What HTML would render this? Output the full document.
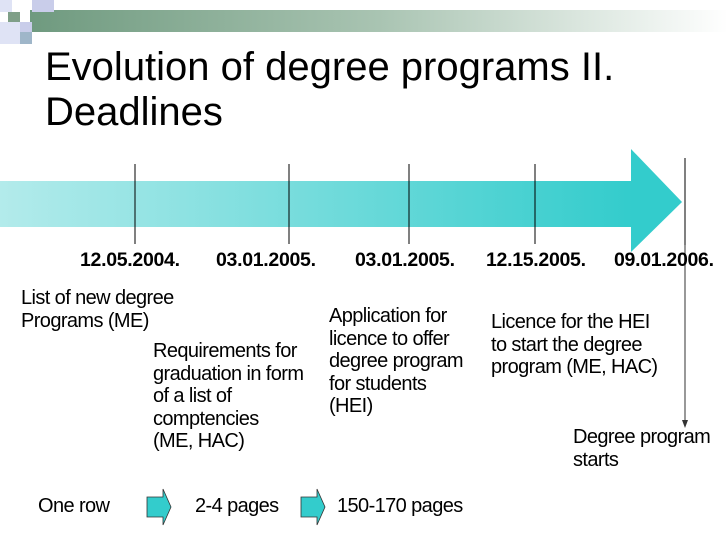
<!DOCTYPE html>
<html><head><meta charset="utf-8"><style>
body{margin:0;width:728px;height:546px;background:#fff;position:relative;overflow:hidden;font-family:"Liberation Sans",Arial,sans-serif;color:#000}
.t{position:absolute;font-size:20px;line-height:22.5px;white-space:nowrap;letter-spacing:-0.6px}
.d{position:absolute;top:248px;font-size:19.5px;line-height:24px;font-weight:bold;white-space:nowrap;letter-spacing:-0.3px}
</style></head><body>
<div style="position:absolute;left:30px;top:10px;width:698px;height:22px;background:linear-gradient(to right,#6f9a7f,#a9c4b2 50%,#fff)"></div>
<div style="position:absolute;left:0;top:0;width:12px;height:12px;background:#dfe3f5"></div>
<div style="position:absolute;left:32px;top:0;width:22px;height:12px;background:#c9cdea"></div>
<div style="position:absolute;left:8px;top:12px;width:12px;height:12px;background:#7f9f88"></div>
<div style="position:absolute;left:0;top:22px;width:20px;height:22px;background:#dfe3f5"></div>
<div style="position:absolute;left:20px;top:22px;width:12px;height:22px;background:#c9cdea"></div>
<div style="position:absolute;left:20px;top:32px;width:12px;height:12px;background:#9fb6c9"></div>
<div style="position:absolute;left:45px;top:45px;font-size:40px;line-height:45px">Evolution of degree programs II.<br>Deadlines</div>
<svg width="728" height="546" style="position:absolute;left:0;top:0">
<defs><linearGradient id="g" x1="0" x2="1"><stop offset="0" stop-color="#b3ebeb"/><stop offset="1" stop-color="#33cccc"/></linearGradient></defs>
<rect x="0" y="181" width="632" height="46" fill="url(#g)"/>
<polygon points="631,149 682,202 631,252" fill="#33cccc"/>
<g stroke="#000" stroke-width="1">
<line x1="135" y1="164" x2="135" y2="244"/><line x1="289" y1="164" x2="289" y2="244"/>
<line x1="409" y1="164" x2="409" y2="244"/><line x1="535" y1="164" x2="535" y2="244"/>
<line x1="685" y1="158" x2="685" y2="245"/></g>
<line x1="685" y1="245" x2="685" y2="420" stroke="#555" stroke-width="1.2"/>
<polygon points="682,420 688,420 685,428" fill="#333"/>
<polygon points="147,497 163,497 163,489 171,507 163,525 163,517 147,517" fill="#33cccc" stroke="#333" stroke-width="0.8"/>
<polygon points="301,497 317,497 317,489 325,507 317,525 317,517 301,517" fill="#33cccc" stroke="#333" stroke-width="0.8"/>
</svg>
<div class="d" style="left:80px">12.05.2004.</div>
<div class="d" style="left:216px">03.01.2005.</div>
<div class="d" style="left:355px">03.01.2005.</div>
<div class="d" style="left:486px">12.15.2005.</div>
<div class="d" style="left:614px">09.01.2006.</div>
<div class="t" style="left:21px;top:287px">List of new degree<br>Programs (ME)</div>
<div class="t" style="left:153px;top:340px">Requirements for<br>graduation in form<br>of a list of<br>comptencies<br>(ME, HAC)</div>
<div class="t" style="left:329px;top:305px">Application for<br>licence to offer<br>degree program<br>for students<br>(HEI)</div>
<div class="t" style="left:491px;top:311px">Licence for the HEI<br>to start the degree<br>program (ME, HAC)</div>
<div class="t" style="left:573px;top:426px">Degree program<br>starts</div>
<div class="t" style="left:38px;top:495px">One row</div>
<div class="t" style="left:195px;top:495px">2-4 pages</div>
<div class="t" style="left:337px;top:495px">150-170 pages</div>
</body></html>
